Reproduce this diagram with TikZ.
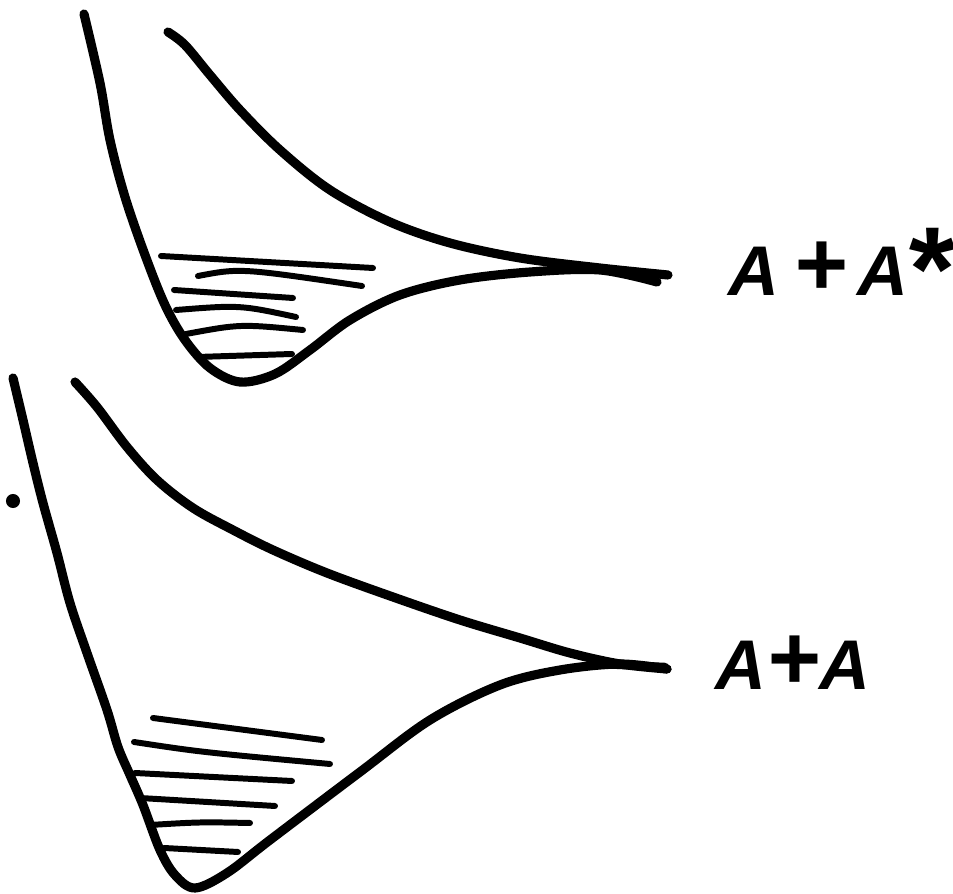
\documentclass[tikz,border=0pt]{standalone}
\usepackage{fontspec}
\setmainfont{Liberation Sans}
\usepackage{tikz}
\usetikzlibrary{positioning}
\newcommand{\lplus}{{\fontsize{26}{26}\selectfont +}}
\tikzset{
    curve/.style={line width=2.6pt, line cap=round, line join=round,
                  draw=black},
    hatch/.style={line width=1.7pt, line cap=round, draw=black},
    lbl/.style={font=\fontsize{20}{24}\selectfont\bfseries\itshape,
                inner sep=0pt, anchor=base west}
}

\begin{document}
\begin{tikzpicture}[x=0.01cm, y=-0.01cm]
\useasboundingbox (0,0) rectangle (953,894);

% ── Upper curve: A + A* ──────────────────────────────────────────────
\draw[curve] plot[smooth, tension=0.55] coordinates {(84,14) (100,83)
    (110,140) (125,197) (145,255) (165,305) (185,340) (210,368)
    (240,382) (275,374) (310,350) (350,320) (400,295) (460,280)
    (530,272) (600,270) (657,282)};
\draw[curve] plot[smooth, tension=0.55] coordinates {(168,32) (185,45)
    (210,75) (240,110) (280,150) (330,190) (390,222) (450,243)
    (520,258) (600,268) (668,275)};

% ── Upper hatching ───────────────────────────────────────────────────
\draw[hatch] (161,256) -- (373,268);
\draw[hatch] (198,276) .. controls (240,268) .. (362,286);
\draw[hatch] (174,290) -- (293,298);
\draw[hatch] (176,310) .. controls (240,305) .. (296,317);
\draw[hatch] (186,334) .. controls (240,324) .. (303,330);
\draw[hatch] (197,357) -- (292,354);

% ── Lower curve: A + A ───────────────────────────────────────────────
\draw[curve] plot[smooth, tension=0.55] coordinates {(13,378) (23,420)
    (33,463) (43,503) (57,553) (70,603) (87,653) (107,710) (118,747)
    (130,775) (143,805) (160,850) (175,875) (195,888) (227,873)
    (270,840) (360,772) (430,720) (500,685) (560,670) (620,664)
    (667,669)};
\draw[curve] plot[smooth, tension=0.55] coordinates {(75,382) (97,407)
    (127,447) (157,480) (193,508) (233,530) (273,550) (327,573)
    (393,597) (460,620) (520,638) (570,653) (620,664) (667,669)};
\draw[line width=2.4pt, line cap=round] (600,664) -- (665,667);

% ── Lower hatching ───────────────────────────────────────────────────
\draw[hatch] (153,718) -- (322,740);
\draw[hatch] (134,742) .. controls (200,752) .. (330,764);
\draw[hatch] (135,773) -- (292,781);
\draw[hatch] (140,798) -- (275,806);
\draw[hatch] (150,825) .. controls (200,822) .. (250,823);
\draw[hatch] (164,848) -- (238,852);

% stray dot
\fill (13,501) circle[radius=2pt];

% ── Labels ───────────────────────────────────────────────────────────
\node[lbl] (upper) at (728,296) {A\kern4pt\lplus\kern3ptA\kern-1pt\raisebox{-4pt}{\fontsize{34}{34}\selectfont*}};
\node[lbl] (lower) at (715,690) {A\lplus A};
\end{tikzpicture}
\end{document}
